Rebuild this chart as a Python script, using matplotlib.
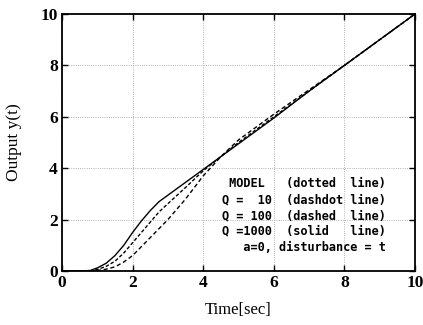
import matplotlib
matplotlib.use("Agg")
import matplotlib.pyplot as plt

# ------------------ Data ------------------
t = [0, 0.5, 0.8, 1.0, 1.25, 1.5, 1.75, 2.0, 2.25, 2.5, 2.75, 3.0, 3.5, 4.0, 4.5, 5.0, 6.0, 7.0, 8.0, 9.0, 10.0]

y_q1000 = [0, 0, 0.02, 0.12, 0.3, 0.6, 1.0, 1.5, 1.95, 2.35, 2.7, 2.95, 3.45, 3.95, 4.45, 4.95, 5.95, 7.0, 8.0, 9.0, 10.0]
y_q100 = [0, 0, 0.0, 0.06, 0.18, 0.38, 0.7, 1.1, 1.5, 1.9, 2.3, 2.62, 3.25, 3.9, 4.45, 5.0, 6.0, 7.0, 8.0, 9.0, 10.0]
y_q10 = [0, 0, 0.0, 0.02, 0.07, 0.16, 0.35, 0.6, 0.95, 1.3, 1.65, 2.0, 2.8, 3.7, 4.45, 5.1, 6.1, 7.05, 8.0, 9.0, 10.0]

legend_lines = [
    " MODEL   (dotted  line)",
    "Q =  10  (dashdot line)",
    "Q = 100  (dashed  line)",
    "Q =1000  (solid   line)",
    "   a=0, disturbance = t",
]

# ------------------ Plot ------------------
fig = plt.figure(figsize=(4.23, 3.25), dpi=100)
ax = fig.add_axes([62 / 423, 1 - 271 / 325, (415 - 62) / 423, (271 - 14) / 325])

ax.plot(t, y_q10, color="black", linestyle=(0, (3, 2)), linewidth=1.0)
ax.plot(t, y_q100, color="black", linestyle=(0, (2.5, 1.5)), linewidth=1.0)
ax.plot(t, y_q1000, color="black", linestyle="-", linewidth=1.0)

ax.set_xlim(0, 10)
ax.set_ylim(0, 10)
ax.set_xticks([0, 2, 4, 6, 8, 10])
ax.set_yticks([0, 2, 4, 6, 8, 10])
ax.tick_params(direction="in", top=True, right=True, length=4, width=1,
               labelsize=12.5, pad=3)
for lab in ax.get_xticklabels() + ax.get_yticklabels():
    lab.set_fontfamily("Liberation Serif")
    lab.set_fontweight("bold")
for sp in ax.spines.values():
    sp.set_linewidth(1.3)

ax.grid(True, linestyle=":", color="#999999", linewidth=0.6)

ax.set_xlabel("Time[sec]", fontfamily="Liberation Serif", fontsize=12,
              labelpad=8)
ax.set_ylabel("Output y(t)", fontfamily="Liberation Serif", fontsize=12.5,
              labelpad=13)

for i, line in enumerate(legend_lines):
    ax.text(4.53, 3.4 - i * 0.62, line, fontfamily="DejaVu Sans Mono",
            fontsize=8.6, fontweight="bold", va="center", ha="left")

fig.savefig("out.png", dpi=100)
